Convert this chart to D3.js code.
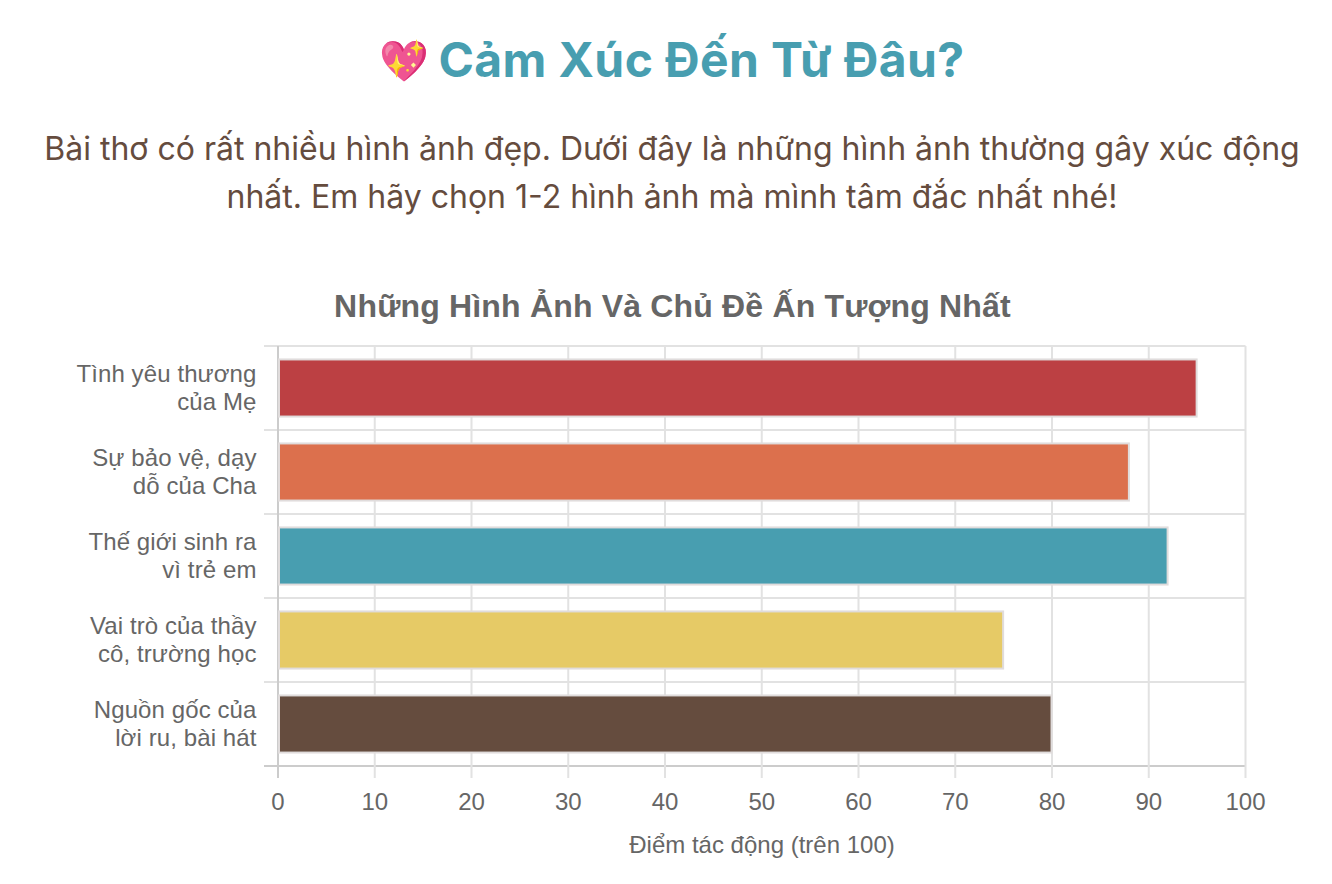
<!DOCTYPE html>
<html><head><meta charset="utf-8">
<script src="https://cdn.jsdelivr.net/npm/d3@7"></script>
<style>
html,body{margin:0;padding:0;background:#fff;}
svg{display:block;font-family:Inter,"Liberation Sans",sans-serif;}
.h{font-family:"Liberation Sans",Arial,sans-serif;}
</style></head><body>
<svg id="c" width="1332" height="884"></svg>
<script>
const titleEmoji = "💖";
const titleText = "Cảm Xúc Đến Từ Đâu?";
const introLines = ["Bài thơ có rất nhiều hình ảnh đẹp. Dưới đây là những hình ảnh thường gây xúc động","nhất. Em hãy chọn 1-2 hình ảnh mà mình tâm đắc nhất nhé!"];
const chartTitle = "Những Hình Ảnh Và Chủ Đề Ấn Tượng Nhất";
const categories = [["Tình yêu thương","của Mẹ"],["Sự bảo vệ, dạy","dỗ của Cha"],["Thế giới sinh ra","vì trẻ em"],["Vai trò của thầy","cô, trường học"],["Nguồn gốc của","lời ru, bài hát"]];
const values = [95,88,92,75,80];
const colors = ["#BC4043","#DC704D","#489EB0","#E6CA66","#654C3E"];
const xTicks = d3.range(0,101,10);
const xLabel = "Điểm tác động (trên 100)";

const svg = d3.select("#c");
const x = d3.scaleLinear().domain([0,100]).range([278,1245.5]);
const y = d3.scaleBand().domain(d3.range(categories.length)).range([346,766]).paddingInner(0.32).paddingOuter(0.16);
const bandStep = y.step();
const grid = "#e2e2e2", axisC = "#cccccc", txt = "#666666";

svg.append("text").attr("x",403.5).attr("y",75).attr("text-anchor","middle")
  .attr("font-size",40).text(titleEmoji);
svg.append("text").attr("x",701.5).attr("y",77).attr("text-anchor","middle")
  .attr("font-size",48).attr("letter-spacing",0.38).attr("font-weight",700).attr("fill","#489EB0").text(titleText);
svg.selectAll(".intro").data(introLines).join("text").attr("class","intro")
  .attr("x",672).attr("y",(d,i)=>160+i*48).attr("text-anchor","middle")
  .attr("font-size",32).attr("fill","#654C3E").text(d=>d);
svg.append("text").attr("class","h").attr("x",672.5).attr("y",317).attr("text-anchor","middle")
  .attr("font-size",32).attr("letter-spacing",0.18).attr("font-weight",700).attr("fill",txt).text(chartTitle);

const rows = d3.range(categories.length+1);
svg.append("g").selectAll("line").data(rows).join("line")
  .attr("x1",264).attr("x2",x(100))
  .attr("y1",d=>346+d*bandStep).attr("y2",d=>346+d*bandStep)
  .attr("stroke",d=>d===categories.length?axisC:grid).attr("stroke-width",2);
svg.append("g").selectAll("line").data(xTicks).join("line")
  .attr("x1",d=>x(d)).attr("x2",d=>x(d)).attr("y1",346).attr("y2",778)
  .attr("stroke",d=>d===0?axisC:grid).attr("stroke-width",2);

svg.append("g").selectAll("rect").data(values).join("rect")
  .attr("x",x(0)+1).attr("y",(d,i)=>y(i))
  .attr("width",d=>x(d)-x(0)-1.5).attr("height",y.bandwidth())
  .attr("fill",(d,i)=>colors[i]).attr("stroke","#e0dcdc").attr("stroke-width",2);

categories.forEach((c,i)=>{
  svg.append("g").attr("class","h").selectAll("text").data(c).join("text")
    .attr("x",256.5).attr("y",(d,j)=>y(i)+y.bandwidth()/2-6+j*28)
    .attr("text-anchor","end").attr("font-size",24).attr("letter-spacing",0.1).attr("fill",txt).text(d=>d);
});
svg.append("g").attr("class","h").selectAll("text").data(xTicks).join("text")
  .attr("x",d=>x(d)).attr("y",810).attr("text-anchor","middle")
  .attr("font-size",24).attr("fill",txt).text(d=>d);
svg.append("text").attr("class","h").attr("x",762).attr("y",853).attr("text-anchor","middle")
  .attr("font-size",24).attr("fill",txt).text(xLabel);
</script></body></html>
